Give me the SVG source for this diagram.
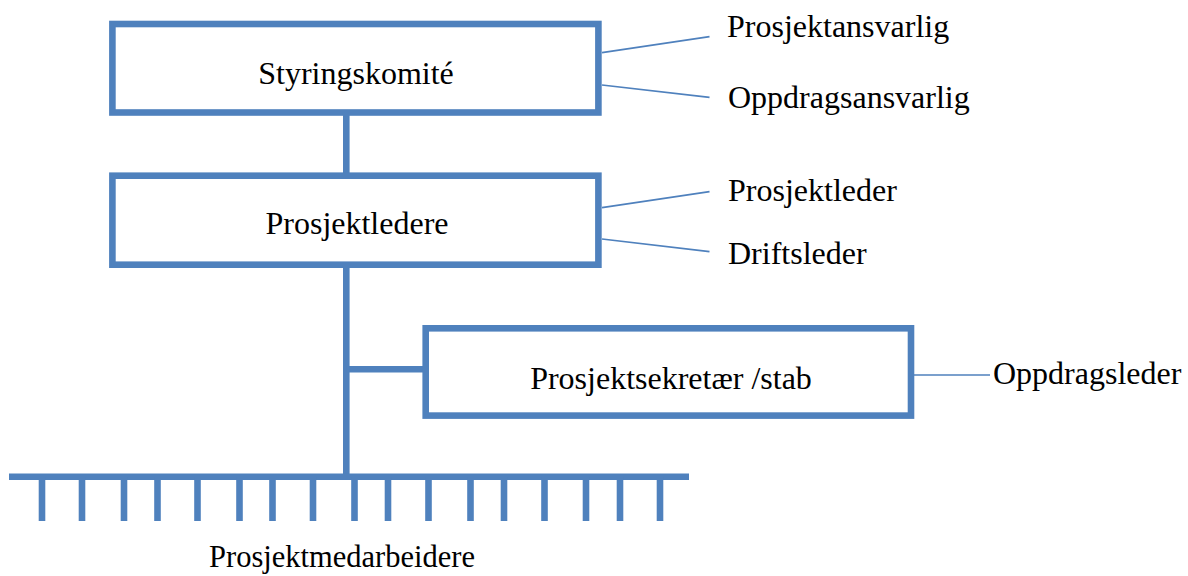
<svg xmlns="http://www.w3.org/2000/svg" width="1188" height="576" viewBox="0 0 1188 576">
  <style>
    .box { fill: #ffffff; stroke: #4f81bd; stroke-width: 6.6; }
    .bar { fill: none; stroke: #4f81bd; stroke-width: 6.6; }
    .thin { fill: none; stroke: #4f81bd; stroke-width: 1.7; }
    text { font-family: "Liberation Serif", "Times New Roman", serif; font-size: 32px; fill: #000000; }
    .mid { text-anchor: middle; }
    .staff { font-size: 30.5px; }
  </style>
  <rect width="1188" height="576" fill="#ffffff"/>

  <!-- connectors: trunk, branch, staff comb and role lines -->
  <g id="connectors">
    <line class="bar" x1="346.3" y1="115" x2="346.3" y2="173"/>
    <line class="bar" x1="346.3" y1="267" x2="346.3" y2="477"/>
    <line class="bar" x1="346.3" y1="369.3" x2="423" y2="369.3"/>
    <line class="bar" x1="9" y1="476.7" x2="689" y2="476.7"/>
    <path class="bar" d="M42 477V521 M82 477V521 M124 477V521 M157.5 477V521 M197.5 477V521 M239.5 477V521 M272.5 477V521 M313 477V521 M354.5 477V521 M388 477V521 M428.5 477V521 M470.5 477V521 M504 477V521 M544.5 477V521 M586 477V521 M620 477V521 M660 477V521"/>
    <line class="thin" x1="602" y1="52.7" x2="709.5" y2="36.7"/>
    <line class="thin" x1="602" y1="85" x2="709.5" y2="97.3"/>
    <line class="thin" x1="602" y1="207.7" x2="709.5" y2="191.7"/>
    <line class="thin" x1="602" y1="239" x2="709.5" y2="251.7"/>
    <line class="thin" x1="914" y1="375" x2="990" y2="375"/>
  </g>

  <g id="styringskomite">
    <rect class="box" x="112.4" y="24" width="486" height="88.5"/>
    <text class="mid" x="356" y="84">Styringskomité</text>
  </g>

  <g id="prosjektledere">
    <rect class="box" x="112.4" y="175.7" width="486" height="89"/>
    <text class="mid" x="357" y="234">Prosjektledere</text>
  </g>

  <g id="prosjektsekretaer">
    <rect class="box" x="425.7" y="328.3" width="485.3" height="87.3"/>
    <text class="mid" x="671" y="389">Prosjektsekretær /stab</text>
  </g>

  <g id="roles">
    <text x="727" y="37">Prosjektansvarlig</text>
    <text x="728" y="108">Oppdragsansvarlig</text>
    <text x="728" y="201">Prosjektleder</text>
    <text x="728" y="264">Driftsleder</text>
    <text x="993" y="384">Oppdragsleder</text>
  </g>

  <g id="prosjektmedarbeidere">
    <text class="mid staff" x="342" y="567">Prosjektmedarbeidere</text>
  </g>
</svg>
